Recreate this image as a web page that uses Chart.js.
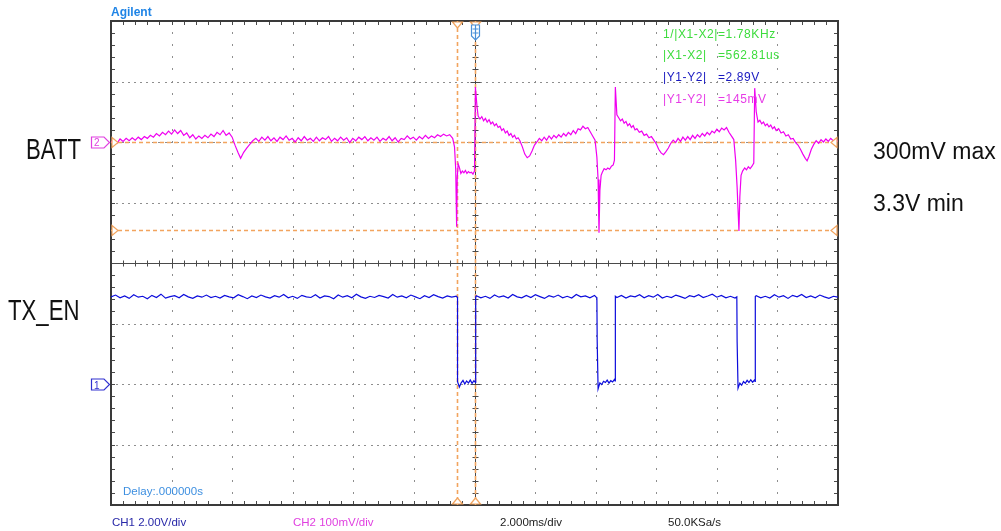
<!DOCTYPE html>
<html><head><meta charset="utf-8">
<script src="https://cdn.jsdelivr.net/npm/chart.js@4/dist/chart.umd.min.js"></script>
<style>
html,body{margin:0;padding:0;background:#fff;overflow:hidden}
#wrap{position:relative;width:1001px;height:531px;background:#fff}
#c{position:absolute;left:0;top:0}
.t{position:absolute;white-space:nowrap;font-family:"Liberation Sans",Arial,sans-serif;line-height:1}
.r{font-size:12px;letter-spacing:.6px}
.b{font-size:11.5px}
.side{font-size:29px;color:#111;transform:scaleX(.765);transform-origin:0 0}
.rs{font-size:23px;color:#111}
.mk{font-size:10px}
</style></head><body>
<div id="wrap">
<canvas id="c" width="1001" height="531"></canvas>
<div class="t" style="left:111px;top:6px;font-weight:bold;font-size:12px;color:#1f84e6">Agilent</div>
<div class="t r" style="left:663px;top:27.5px;color:#3ddc3d">1/|X1-X2|=1.78KHz</div>
<div class="t r" style="left:663px;top:49px;color:#3ddc3d">|X1-X2|</div>
<div class="t r" style="left:718px;top:49px;color:#3ddc3d">=562.81us</div>
<div class="t r" style="left:663px;top:71px;color:#1818c0">|Y1-Y2|</div>
<div class="t r" style="left:718px;top:71px;color:#1818c0">=2.89V</div>
<div class="t r" style="left:663px;top:92.5px;color:#e63ce6">|Y1-Y2|</div>
<div class="t r" style="left:718px;top:92.5px;color:#e63ce6">=145mV</div>
<div class="t side" style="left:26px;top:134.5px">BATT</div>
<div class="t side" style="left:8px;top:295.5px">TX_EN</div>
<div class="t rs" style="left:873px;top:139.5px">300mV max</div>
<div class="t rs" style="left:873px;top:191.5px">3.3V min</div>
<div class="t mk" style="left:94px;top:138px;color:#e040e0">2</div>
<div class="t mk" style="left:94px;top:380.5px;color:#3030d0">1</div>
<div class="t b" style="left:123px;top:486px;color:#3d8fe0">Delay:.000000s</div>
<div class="t b" style="left:112px;top:516.8px;color:#2828a8">CH1 2.00V/div</div>
<div class="t b" style="left:293px;top:516.8px;color:#e040e0">CH2 100mV/div</div>
<div class="t b" style="left:500px;top:516.8px;color:#222">2.000ms/div</div>
<div class="t b" style="left:668px;top:516.8px;color:#222">50.0KSa/s</div>
</div>
<script>
// Time axis in ms (2 ms/div, 12 divisions), CH1 in volts (2 V/div), CH2 in mV (100 mV/div)
const timeDivs = [-12,-10,-8,-6,-4,-2,0,2,4,6,8,10,12];
const ch2Divs = [-600,-500,-400,-300,-200,-100,0,100,200];
const cursorX = [-0.563, 0];     // X1, X2 (ms)
const cursorY = [0, -145];       // Y1, Y2 (mV on CH2)

// BATT (CH2) in mV relative to channel marker
const battPoints = [
[-12.00,0],[-11.90,4],[-11.80,-2],[-11.70,5],[-11.60,1],[-11.50,6],[-11.40,2],[-11.30,7],[-11.20,3],[-11.10,8],
[-11.00,4],[-10.90,9],[-10.80,6],[-10.70,11],[-10.60,8],[-10.50,14],[-10.40,10],[-10.30,16],[-10.20,12],[-10.10,18],
[-10.00,13],[-9.90,20],[-9.80,14],[-9.70,19],[-9.60,11],[-9.50,15],[-9.40,7],[-9.30,12],[-9.20,5],[-9.10,10],
[-9.00,6],[-8.90,11],[-8.80,7],[-8.70,13],[-8.60,9],[-8.50,16],[-8.40,12],[-8.30,19],[-8.20,11],[-8.10,15],
[-8.00,8],[-7.90,-6],[-7.80,-18],[-7.72,-27],[-7.62,-17],[-7.52,-10],[-7.42,-4],[-7.32,2],[-7.22,6],[-7.12,1],
[-7.02,8],[-6.92,3],[-6.82,9],[-6.72,2],[-6.62,7],[-6.52,1],[-6.42,8],[-6.32,4],[-6.22,10],[-6.12,3],
[-6.02,6],[-5.92,0],[-5.82,7],[-5.72,2],[-5.62,9],[-5.52,3],[-5.42,6],[-5.32,1],[-5.22,8],[-5.12,2],
[-5.02,7],[-4.92,4],[-4.82,9],[-4.72,1],[-4.62,6],[-4.52,2],[-4.42,8],[-4.32,3],[-4.22,7],[-4.12,-1],
[-4.02,6],[-3.92,2],[-3.82,8],[-3.72,4],[-3.62,9],[-3.52,2],[-3.42,7],[-3.32,3],[-3.22,8],[-3.12,1],
[-3.02,6],[-2.92,3],[-2.82,9],[-2.72,2],[-2.62,7],[-2.52,0],[-2.42,6],[-2.32,4],[-2.22,10],[-2.12,5],
[-2.02,8],[-1.92,3],[-1.82,9],[-1.72,5],[-1.62,11],[-1.52,6],[-1.42,10],[-1.32,7],[-1.22,12],[-1.12,9],
[-1.02,13],[-0.92,10],[-0.82,12],[-0.72,6],[-0.66,-8],[-0.62,-45],[-0.59,-140],[-0.57,-60],[-0.54,-36],[-0.50,-42],
[-0.45,-52],[-0.40,-48],[-0.35,-51],[-0.30,-47],[-0.25,-52],[-0.20,-49],[-0.15,-51],[-0.10,-50],[-0.05,-53],[0.00,-48],
[0.03,91],[0.08,60],[0.12,43],[0.18,38],[0.24,42],[0.30,35],[0.36,39],[0.42,33],[0.48,37],[0.54,30],
[0.60,33],[0.66,27],[0.72,30],[0.78,24],[0.84,26],[0.90,19],[0.96,22],[1.02,15],[1.08,18],[1.14,11],
[1.20,14],[1.26,8],[1.32,11],[1.38,5],[1.44,7],[1.50,2],[1.58,-8],[1.66,-20],[1.74,-26],[1.82,-23],
[1.90,-15],[1.98,-5],[2.06,0],[2.14,6],[2.22,2],[2.30,8],[2.38,3],[2.46,10],[2.54,5],[2.62,11],
[2.70,7],[2.78,12],[2.86,8],[2.94,14],[3.02,10],[3.10,16],[3.18,12],[3.26,19],[3.34,14],[3.42,22],
[3.50,20],[3.58,26],[3.66,22],[3.74,24],[3.82,17],[3.90,10],[3.98,3],[4.04,-25],[4.08,-62],[4.11,-150],
[4.14,-80],[4.18,-55],[4.22,-50],[4.28,-44],[4.34,-46],[4.40,-43],[4.46,-45],[4.52,-40],[4.58,-38],[4.62,-30],
[4.65,91],[4.70,45],[4.76,40],[4.82,35],[4.88,38],[4.94,31],[5.00,34],[5.06,27],[5.12,30],[5.18,24],
[5.24,27],[5.30,20],[5.36,22],[5.44,16],[5.52,18],[5.60,11],[5.68,13],[5.76,7],[5.84,9],[5.92,3],
[6.00,-3],[6.08,-12],[6.16,-18],[6.24,-21],[6.32,-16],[6.40,-10],[6.48,-2],[6.56,3],[6.64,-1],[6.72,6],
[6.80,1],[6.88,8],[6.96,3],[7.04,9],[7.12,4],[7.20,11],[7.28,6],[7.36,12],[7.44,8],[7.52,14],
[7.60,10],[7.68,16],[7.76,12],[7.84,18],[7.92,15],[8.00,21],[8.08,17],[8.16,23],[8.24,20],[8.32,24],
[8.40,16],[8.48,10],[8.56,4],[8.62,-30],[8.67,-75],[8.73,-147],[8.76,-90],[8.80,-55],[8.85,-48],[8.92,-43],
[8.98,-46],[9.04,-41],[9.10,-44],[9.16,-40],[9.22,-35],[9.25,89],[9.30,50],[9.36,33],[9.42,36],[9.48,30],
[9.54,33],[9.60,27],[9.66,30],[9.72,25],[9.78,28],[9.84,22],[9.90,25],[9.96,19],[10.04,22],[10.12,15],
[10.20,17],[10.28,10],[10.36,12],[10.44,5],[10.52,6],[10.60,-1],[10.68,-5],[10.76,-12],[10.84,-20],[10.92,-27],
[10.98,-31],[11.04,-24],[11.12,-12],[11.20,-4],[11.28,2],[11.36,-2],[11.44,4],[11.52,0],[11.60,5],[11.68,1],
[11.76,6],[11.84,2],[11.92,4],[12.00,1]
];

// TX_EN (CH1) in volts
const txPoints = [
[-12.00,2.88],[-11.85,2.94],[-11.70,2.85],[-11.55,2.91],[-11.40,2.83],[-11.25,2.95],[-11.10,2.87],[-10.95,2.90],[-10.80,2.82],[-10.65,2.93],
[-10.50,2.86],[-10.35,2.97],[-10.20,2.84],[-10.05,2.89],[-9.90,2.92],[-9.75,2.85],[-9.60,2.96],[-9.45,2.88],[-9.30,2.83],[-9.15,2.91],
[-9.00,2.87],[-8.85,2.94],[-8.70,2.86],[-8.55,2.90],[-8.40,2.84],[-8.25,2.93],[-8.10,2.88],[-7.95,2.85],[-7.80,2.95],[-7.65,2.89],
[-7.50,2.82],[-7.35,2.91],[-7.20,2.86],[-7.05,2.94],[-6.90,2.88],[-6.75,2.84],[-6.60,2.92],[-6.45,2.87],[-6.30,2.96],[-6.15,2.85],
[-6.00,2.90],[-5.85,2.83],[-5.70,2.93],[-5.55,2.88],[-5.40,2.86],[-5.25,2.95],[-5.10,2.84],[-4.95,2.91],[-4.80,2.89],[-4.65,2.82],
[-4.50,2.94],[-4.35,2.87],[-4.20,2.92],[-4.05,2.85],[-3.90,2.97],[-3.75,2.88],[-3.60,2.83],[-3.45,2.90],[-3.30,2.86],[-3.15,2.93],
[-3.00,2.89],[-2.85,2.84],[-2.70,2.96],[-2.55,2.87],[-2.40,2.91],[-2.25,2.85],[-2.10,2.94],[-1.95,2.88],[-1.80,2.82],[-1.65,2.92],
[-1.50,2.86],[-1.35,2.95],[-1.20,2.89],[-1.05,2.84],[-0.90,2.91],[-0.75,2.87],[-0.60,2.90],
[-0.56,2.86],[-0.56,0.08],[-0.50,-0.10],[-0.44,0.04],[-0.38,0.12],[-0.32,0.00],[-0.26,0.10],[-0.20,0.03],[-0.14,0.13],[-0.08,0.02],[-0.02,0.11],[0.03,0.05],[0.04,2.88],
[0.06,2.92],[0.21,2.85],[0.36,2.90],[0.51,2.83],[0.66,2.94],[0.81,2.87],[0.96,2.91],[1.11,2.84],[1.26,2.96],[1.41,2.88],
[1.56,2.85],[1.71,2.93],[1.86,2.86],[2.01,2.95],[2.16,2.89],[2.31,2.83],[2.46,2.92],[2.61,2.87],[2.76,2.94],[2.91,2.85],
[3.06,2.90],[3.21,2.84],[3.36,2.96],[3.51,2.88],[3.66,2.91],[3.81,2.85],[3.96,2.93],[4.02,2.87],
[4.04,2.86],[4.05,1.45],[4.08,-0.16],[4.14,0.04],[4.20,-0.02],[4.26,0.09],[4.32,0.05],[4.38,0.13],[4.44,0.03],[4.50,0.11],[4.56,0.07],[4.62,0.15],[4.64,0.10],[4.65,2.90],
[4.70,2.86],[4.85,2.93],[5.00,2.84],[5.15,2.91],[5.30,2.88],[5.45,2.95],[5.60,2.85],[5.75,2.92],[5.90,2.87],[6.05,2.96],
[6.20,2.84],[6.35,2.90],[6.50,2.86],[6.65,2.94],[6.80,2.89],[6.95,2.83],[7.10,2.92],[7.25,2.88],[7.40,2.95],[7.55,2.86],
[7.70,2.91],[7.85,2.97],[8.00,2.87],[8.15,2.93],[8.30,2.85],[8.45,2.90],[8.60,2.84],[8.66,2.88],
[8.67,1.40],[8.70,-0.14],[8.76,0.03],[8.82,-0.04],[8.88,0.08],[8.94,0.02],[9.00,0.12],[9.06,0.05],[9.12,0.14],[9.18,0.06],[9.24,0.13],[9.26,0.09],[9.27,2.89],
[9.30,2.92],[9.45,2.85],[9.60,2.90],[9.75,2.84],[9.90,2.95],[10.05,2.87],[10.20,2.92],[10.35,2.83],[10.50,2.93],[10.65,2.88],
[10.80,2.96],[10.95,2.86],[11.10,2.91],[11.25,2.85],[11.40,2.94],[11.55,2.88],[11.70,2.83],[11.85,2.90],[12.00,2.87]
];

const ORANGE = '#f2a45e';

const scopePlugin = {
  id: 'scope',
  beforeDatasetsDraw(chart) {
    const {ctx, chartArea: a, scales} = chart;
    const X = v => scales.x.getPixelForValue(v);
    const Y = v => scales.y2.getPixelForValue(v);
    ctx.save();
    // dotted grid
    ctx.fillStyle = '#8e8e8e';
    timeDivs.forEach(t => {
      if (t === 0 || t === timeDivs[0] || t === timeDivs[timeDivs.length-1]) return;
      const px = Math.round(X(t));
      for (let k = 1; k < 40; k++) {
        const py = Math.round(Y(-600 + k*20));
        ctx.fillRect(px, py - 1, 1, 2);
      }
    });
    ch2Divs.forEach(m => {
      if (m === -200 || m === ch2Divs[0] || m === ch2Divs[ch2Divs.length-1]) return;
      const py = Math.round(Y(m));
      for (let k = 1; k < 120; k++) {
        const px = Math.round(X(-12 + k*0.2));
        ctx.fillRect(px - 1, py, 2, 1);
      }
    });
    // center axes
    ctx.strokeStyle = '#4a4a4a';
    ctx.lineWidth = 1;
    const cy = Math.round(Y(-200)) + 0.5, cx = Math.round(X(0)) + 0.5;
    ctx.beginPath();
    ctx.moveTo(a.left, cy); ctx.lineTo(a.right, cy);
    ctx.moveTo(cx, a.top); ctx.lineTo(cx, a.bottom);
    for (let k = 0; k <= 60; k++) {
      const px = Math.round(X(-12 + k*0.4)) + 0.5;
      const h = (k % 5 === 0) ? 5 : 3;
      ctx.moveTo(px, cy - h); ctx.lineTo(px, cy + h);
    }
    for (let k = 0; k <= 40; k++) {
      const py = Math.round(Y(-600 + k*20)) + 0.5;
      const h = (k % 5 === 0) ? 5 : 3;
      ctx.moveTo(cx - h, py); ctx.lineTo(cx + h, py);
    }
    ctx.stroke();
    // frame ticks
    ctx.beginPath();
    for (let k = 1; k < 60; k++) {
      const px = Math.round(X(-12 + k*0.4)) + 0.5;
      ctx.moveTo(px, a.top); ctx.lineTo(px, a.top + 4);
      ctx.moveTo(px, a.bottom); ctx.lineTo(px, a.bottom - 4);
    }
    for (let k = 1; k < 40; k++) {
      const py = Math.round(Y(-600 + k*20)) + 0.5;
      ctx.moveTo(a.left, py); ctx.lineTo(a.left + 4, py);
      ctx.moveTo(a.right, py); ctx.lineTo(a.right - 4, py);
    }
    ctx.stroke();
    // frame
    ctx.strokeStyle = '#3a3a3a';
    ctx.lineWidth = 2;
    ctx.strokeRect(a.left, a.top, a.right - a.left, a.bottom - a.top);
    // cursors
    ctx.strokeStyle = ORANGE;
    ctx.lineWidth = 1.6;
    ctx.setLineDash([4, 3]);
    ctx.beginPath();
    cursorY.forEach(m => { const py = Math.round(Y(m)) + 0.5; ctx.moveTo(a.left, py); ctx.lineTo(a.right, py); });
    cursorX.forEach(t => { const px = Math.round(X(t)) + 0.5; ctx.moveTo(px, a.top); ctx.lineTo(px, a.bottom); });
    ctx.stroke();
    ctx.setLineDash([]);
    ctx.restore();
  },
  afterDatasetsDraw(chart) {
    const {ctx, chartArea: a, scales} = chart;
    const X = v => scales.x.getPixelForValue(v);
    const Y2 = v => scales.y2.getPixelForValue(v);
    const Y1 = v => scales.y1.getPixelForValue(v);
    ctx.save();
    ctx.lineWidth = 1.2;
    ctx.strokeStyle = ORANGE;
    ctx.fillStyle = '#fff';
    // orange cursor markers
    cursorY.forEach(m => {
      const py = Math.round(Y2(m)) + 0.5;
      ctx.beginPath(); ctx.moveTo(a.left + 1, py - 5); ctx.lineTo(a.left + 7, py); ctx.lineTo(a.left + 1, py + 5); ctx.closePath(); ctx.fill(); ctx.stroke();
      ctx.beginPath(); ctx.moveTo(a.right - 1, py - 5); ctx.lineTo(a.right - 7, py); ctx.lineTo(a.right - 1, py + 5); ctx.closePath(); ctx.fill(); ctx.stroke();
    });
    cursorX.forEach(t => {
      const px = Math.round(X(t)) + 0.5;
      ctx.beginPath(); ctx.moveTo(px - 5, a.top + 1); ctx.lineTo(px, a.top + 7); ctx.lineTo(px + 5, a.top + 1); ctx.closePath(); ctx.fill(); ctx.stroke();
      ctx.beginPath(); ctx.moveTo(px - 5, a.bottom - 1); ctx.lineTo(px, a.bottom - 7); ctx.lineTo(px + 5, a.bottom - 1); ctx.closePath(); ctx.fill(); ctx.stroke();
    });
    // trigger marker
    const tx = Math.round(X(0)) + 0.5;
    ctx.strokeStyle = '#4a90d8';
    ctx.lineWidth = 1.2;
    ctx.beginPath();
    ctx.moveTo(tx - 4, a.top + 4); ctx.lineTo(tx + 4, a.top + 4); ctx.lineTo(tx + 4, a.top + 15);
    ctx.lineTo(tx, a.top + 19); ctx.lineTo(tx - 4, a.top + 15); ctx.closePath();
    ctx.fill(); ctx.stroke();
    ctx.beginPath();
    ctx.moveTo(tx - 3, a.top + 8); ctx.lineTo(tx + 3, a.top + 8);
    ctx.moveTo(tx - 3, a.top + 12); ctx.lineTo(tx + 3, a.top + 12);
    ctx.moveTo(tx, a.top + 4); ctx.lineTo(tx, a.top + 19);
    ctx.stroke();
    // channel markers
    const mark = (py, col) => {
      py = Math.round(py) + 0.5;
      ctx.strokeStyle = col; ctx.lineWidth = 1.2;
      ctx.beginPath();
      ctx.moveTo(91.5, py - 5.5); ctx.lineTo(104, py - 5.5); ctx.lineTo(109.5, py);
      ctx.lineTo(104, py + 5.5); ctx.lineTo(91.5, py + 5.5); ctx.closePath();
      ctx.stroke();
    };
    mark(Y2(0), '#e040e0');
    mark(Y1(0), '#3030d0');
    ctx.restore();
  }
};

new Chart(document.getElementById('c'), {
  type: 'line',
  data: {
    datasets: [
      { label: 'TX_EN', data: txPoints.map(p => ({x: p[0], y: p[1]})), yAxisID: 'y1',
        borderColor: '#0c0cdc', borderWidth: 1.2, pointRadius: 0, tension: 0, fill: false },
      { label: 'BATT', data: battPoints.map(p => ({x: p[0], y: p[1]})), yAxisID: 'y2',
        borderColor: '#f000f0', borderWidth: 1.2, pointRadius: 0, tension: 0, fill: false }
    ]
  },
  options: {
    responsive: false,
    animation: false,
    events: [],
    layout: { padding: { left: 111, right: 163, top: 21, bottom: 26 } },
    plugins: { legend: { display: false }, tooltip: { enabled: false }, title: { display: false } },
    scales: {
      x: { type: 'linear', min: -12, max: 12, display: false },
      y1: { type: 'linear', min: -4, max: 12, display: false },
      y2: { type: 'linear', min: -600, max: 200, display: false }
    }
  },
  plugins: [scopePlugin]
});
</script>
</body></html>
